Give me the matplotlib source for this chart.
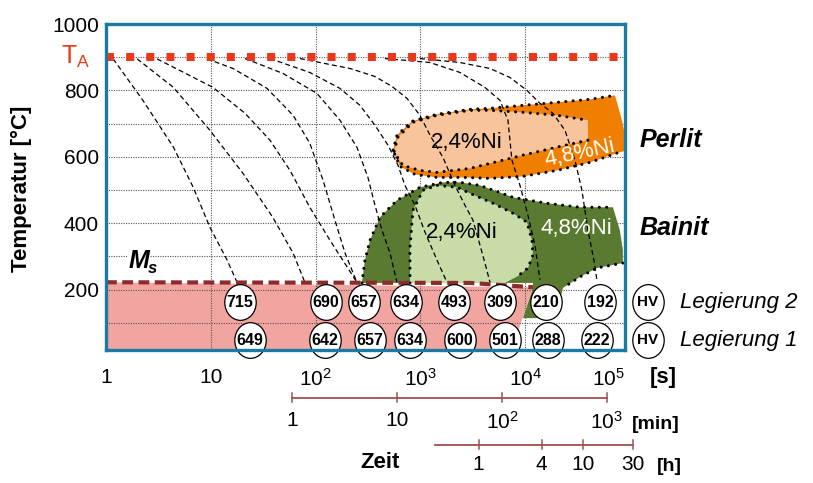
import matplotlib
matplotlib.use('Agg')
import matplotlib.pyplot as plt
from matplotlib import font_manager
from matplotlib.path import Path

installed = {f.name for f in font_manager.fontManager.ttflist}
NARROW = 'Liberation Sans Narrow' if 'Liberation Sans Narrow' in installed else 'Liberation Sans'
WIDE = 'Liberation Sans'
plt.rcParams['font.family'] = [NARROW, 'DejaVu Sans']
plt.rcParams['mathtext.fontset'] = 'custom'
plt.rcParams['mathtext.rm'] = NARROW
plt.rcParams['mathtext.it'] = NARROW + ':italic'
plt.rcParams['mathtext.bf'] = NARROW + ':bold'

# ---------------- data ----------------
T_A = 900
ms_t = [1, 3000, 11870]
ms_T = [222, 220, 207]

# cooling curves: time [s], temperature [°C]
c1_t = [1.17, 2.25, 4.4, 6.8, 9.8, 14.3, 17.8]
c1_T = [895, 770, 629, 508, 388, 289, 222]
c2_t = [1.98, 4.4, 9.8, 20.3, 39, 61, 79]
c2_T = [895, 809, 680, 550, 418, 310, 222]
c3_t = [3.07, 10.5, 21.2, 36.7, 57, 88, 137, 248]
c3_T = [895, 809, 731, 650, 559, 448, 349, 222]
c4_t = [9.2, 16.3, 34.4, 61, 88, 118, 153, 191, 248]
c4_T = [895, 866, 806, 725, 641, 529, 409, 310, 222]
c5_t = [21.2, 48.9, 103, 171, 248, 316, 369, 430, 513, 598]
c5_T = [896, 851, 791, 710, 629, 538, 454, 379, 310, 222]
c6_t = [36.7, 88, 171, 265, 369, 491, 611, 713, 888, 1107, 1440, 1794]
c6_T = [896, 854, 806, 755, 695, 635, 575, 514, 454, 373, 289, 222]
c7_t = [71, 213, 369, 536, 745, 991, 1236, 1644, 2138, 2665, 3177, 3705, 4132, 4617]
c7_T = [896, 866, 842, 812, 776, 725, 665, 598, 514, 454, 409, 334, 280, 222]
c8_t = [459, 1236, 2388, 4132, 5750, 6855, 7480, 8920, 10630, 12400, 13840]
c8_T = [896, 884, 854, 809, 770, 710, 590, 514, 424, 334, 230]
c9_t = [991, 2388, 4617, 7160, 10400, 13840, 18420, 23980, 29870, 34830, 39720, 45300, 48420]
c9_T = [896, 884, 866, 839, 800, 761, 731, 680, 590, 499, 379, 289, 229]

# transformation regions (time [s], temperature [°C])
perlit48_t = [548, 598, 831, 1440, 2971, 4617, 9530, 20100, 41500, 72000, 83900, 95700,
              75100, 41500, 20100, 9530, 4617, 2548, 1440, 888, 639]
perlit48_T = [620, 665, 707, 728, 743, 746, 755, 764, 773, 785, 710, 620,
              611, 583, 559, 541, 535, 538, 538, 547, 571]
perlit24_t = [560, 611, 850, 1440, 2971, 4617, 9530, 20100, 39720, 39720, 20100, 9530,
              4617, 2971, 1440, 991, 682]
perlit24_T = [614, 659, 704, 725, 740, 740, 734, 725, 710, 650, 629, 605,
              580, 565, 553, 559, 574]
bainit48_t = [277, 296, 331, 412, 598, 991, 1644, 2388, 3705, 7650, 16150, 33330, 68830,
              80000, 85650, 85650, 48420, 33330, 22950, 21500, 18030, 9530, 11870, 11870]
bainit48_T = [220, 289, 349, 418, 469, 508, 523, 523, 514, 478, 460, 448, 448,
              380, 319, 280, 265, 238, 205, 168, 114, 114, 205, 220]
bainit24_t = [796, 796, 850, 1059, 1440, 2234, 2971, 4930, 7650, 10400, 11610, 11870,
              10640, 8540, 6415]
bainit24_T = [220, 328, 439, 499, 514, 508, 490, 460, 430, 403, 349, 304, 265, 241, 220]
martensit_t = [1, 11870, 7480, 1]
martensit_T = [222, 207, 18, 18]

# hardness values
hv_leg2 = [715, 690, 657, 634, 493, 309, 210, 192]
hv_leg1 = [649, 642, 657, 634, 600, 501, 288, 222]
hv2_t = [19.0, 126, 290, 729, 2093, 5750, 15800, 51760]
hv1_t = [23.7, 123, 331, 796, 2388, 6415, 16500, 48420]
hv2_T = 162
hv1_T = 48
hv_key_t = 148500

# time axes
s_ticks = [1, 10, 100, 1000, 10000]
s_labels = ['1', '10', r'$10^2$', r'$10^3$', r'$10^4$']
min_ticks = [1, 10, 100, 1000]
min_labels = ['1', '10', r'$10^2$', r'$10^3$']
h_ticks = [1, 4, 10, 30]
h_start = 0.38

# ---------------- colours ----------------
frame_col = '#1a7aa4'
grid_col = '#555555'
axis_col = '#a0504f'

fig = plt.figure(figsize=(8.13, 4.83), dpi=100)
ax = fig.add_axes([106 / 813, 1 - 350 / 483, 519 / 813, 326 / 483])
ax.set_xscale('log')
ax.set_xlim(1, 10 ** 4.953)
ax.set_ylim(18, 1000)

# grid
for T in range(100, 1000, 100):
    ax.axhline(T, color=grid_col, lw=0.8, ls=(0, (1, 1.2)), zorder=1)
for t in s_ticks[1:]:
    ax.axvline(t, color=grid_col, lw=0.8, ls=(0, (1, 1.2)), zorder=1)

# regions
ax.fill(martensit_t, martensit_T, color='#f2a5a0', lw=0, zorder=0.5)
ax.fill(perlit48_t, perlit48_T, color='#f07f00', lw=0, zorder=2)
ax.fill(perlit24_t, perlit24_T, color='#f8c49c', lw=0, zorder=2.1)
ax.fill(bainit48_t, bainit48_T, color='#5b7a31', lw=0, zorder=2)
ax.fill(bainit24_t, bainit24_T, color='#c7dca7', lw=0, zorder=2.1)


def boundary(ts, Ts, idx):
    ax.plot([ts[i] for i in idx], [Ts[i] for i in idx], color='black', lw=2.2,
            ls=(0, (0.01, 2.4)), dash_capstyle='round', zorder=3)


n = len(perlit48_t)
boundary(perlit48_t, perlit48_T, list(range(0, 10)))
boundary(perlit48_t, perlit48_T, list(range(12, n)) + [0])
n = len(perlit24_t)
boundary(perlit24_t, perlit24_T, list(range(9, n)) + list(range(0, 9)))
boundary(bainit48_t, bainit48_T, list(range(0, 13)))
boundary(bainit48_t, bainit48_T, list(range(15, 19)))
boundary(bainit24_t, bainit24_T, list(range(0, 14)))

# cooling curves
for ts, Ts in [(c1_t, c1_T), (c2_t, c2_T), (c3_t, c3_T), (c4_t, c4_T), (c5_t, c5_T),
               (c6_t, c6_T), (c7_t, c7_T), (c8_t, c8_T), (c9_t, c9_T)]:
    ax.plot(ts, Ts, color='black', lw=0.9, ls=(0, (4, 2.5)), zorder=4)

# T_A and Ms lines
ax.axhline(T_A, color='#e8391b', lw=5.8, ls=(0, (1, 1.5)), zorder=5)
ax.plot(ms_t, ms_T, color='#8c2b2b', lw=3, ls=(0, (2.6, 1.3)), zorder=5)

# region labels
ax.text(2784, 644, '2,4%Ni', fontsize=16, ha='center', va='center', zorder=6)
ax.text(33330, 612, '4,8%Ni', fontsize=16, ha='center', va='center', color='white',
        rotation=12, zorder=6)
ax.text(2495, 373, '2,4%Ni', fontsize=16, ha='center', va='center', zorder=6)
ax.text(30550, 385, '4,8%Ni', fontsize=16, ha='center', va='center', color='white', zorder=6)
ax.text(124500, 650, 'Perlit', fontsize=18, family=WIDE, style='italic', weight='bold',
        ha='left', va='center')
ax.text(124500, 385, 'Bainit', fontsize=18, family=WIDE, style='italic', weight='bold',
        ha='left', va='center')

# Ms / T_A labels
ax.text(2.05, 285, 'M', fontsize=18, family=WIDE, style='italic', weight='bold', ha='center',
        va='center', zorder=6,
        bbox=dict(facecolor='white', edgecolor='none', pad=0.5))
ax.annotate('s', xy=(2.05, 285), xytext=(6.5, -5), textcoords='offset points', fontsize=12,
            family=WIDE, style='italic', weight='bold', ha='left', va='center', zorder=6)
ax.text(-0.031, T_A, r'$\mathrm{T}_\mathrm{A}$', transform=ax.get_yaxis_transform(),
        fontsize=18, color='#e8391b', ha='right', va='center')

# hardness circles
circ = Path.unit_circle()
ell = Path(circ.vertices * [0.88, 1.0], circ.codes)
for ts, T, vals in [(hv2_t, hv2_T, hv_leg2), (hv1_t, hv1_T, hv_leg1)]:
    ax.scatter(ts + [hv_key_t], [T] * (len(ts) + 1), marker=ell, s=660, facecolor='white',
               edgecolor='black', lw=0.9, zorder=7, clip_on=False)
    for t, v in zip(ts, vals):
        ax.text(t, T, str(v), fontsize=11.5, weight='bold', ha='center', va='center', zorder=8)
    ax.text(hv_key_t, T, 'HV', fontsize=11, weight='bold', ha='center', va='center', zorder=8)
ax.text(300000, hv2_T, 'Legierung 2', fontsize=16, family=WIDE, style='italic',
        ha='left', va='center')
ax.text(300000, hv1_T, 'Legierung 1', fontsize=16, family=WIDE, style='italic',
        ha='left', va='center')

# axes styling
for sp in ax.spines.values():
    sp.set_color(frame_col)
    sp.set_linewidth(2.4)
    sp.set_zorder(9)
ax.set_yticks([200, 400, 600, 800, 1000])
ax.tick_params(axis='both', length=0, labelsize=15)
ax.tick_params(axis='y', pad=5)
ax.tick_params(axis='x', pad=13)
ax.set_xticks(s_ticks)
ax.set_xticklabels(s_labels)
ax.minorticks_off()
ax.text(1.0, -0.055, r'$10^5$', transform=ax.transAxes, fontsize=15, ha='right', va='top')
ax.text(1.048, -0.085, '[s]', transform=ax.transAxes, fontsize=16, weight='bold',
        ha='left', va='center')
fig.text(0.027, 0.61, 'Temperatur [°C]', rotation=90, fontsize=16, weight='bold',
         ha='center', va='center')

# minute and hour axes below
trans = ax.get_xaxis_transform()
min_y = -0.147
h_y = -0.291
ax.plot([min_ticks[0] * 60, min_ticks[-1] * 60], [min_y, min_y], transform=trans,
        color=axis_col, lw=1.3, clip_on=False)
for m, lab in zip(min_ticks, min_labels):
    ax.plot([m * 60, m * 60], [min_y - 0.014, min_y + 0.014], transform=trans,
            color=axis_col, lw=1.1, clip_on=False)
    ax.text(m * 60, min_y - 0.04, lab, transform=trans, fontsize=15, ha='center', va='top')
ax.text(1.013, -0.227, '[min]', transform=ax.transAxes, fontsize=14, weight='bold',
        ha='left', va='center')
ax.plot([h_start * 3600, h_ticks[-1] * 3600], [h_y, h_y], transform=trans,
        color=axis_col, lw=1.3, clip_on=False)
for h in h_ticks:
    ax.plot([h * 3600, h * 3600], [h_y - 0.014, h_y + 0.014], transform=trans,
            color=axis_col, lw=1.1, clip_on=False)
    ax.text(h * 3600, h_y - 0.03, str(h), transform=trans, fontsize=15, ha='center', va='top')
ax.text(1.062, -0.356, '[h]', transform=ax.transAxes, fontsize=14, weight='bold',
        ha='left', va='center')
ax.text(0.528, -0.344, 'Zeit', transform=ax.transAxes, fontsize=16, weight='bold',
        ha='center', va='center')

fig.savefig('out.png', dpi=100)
